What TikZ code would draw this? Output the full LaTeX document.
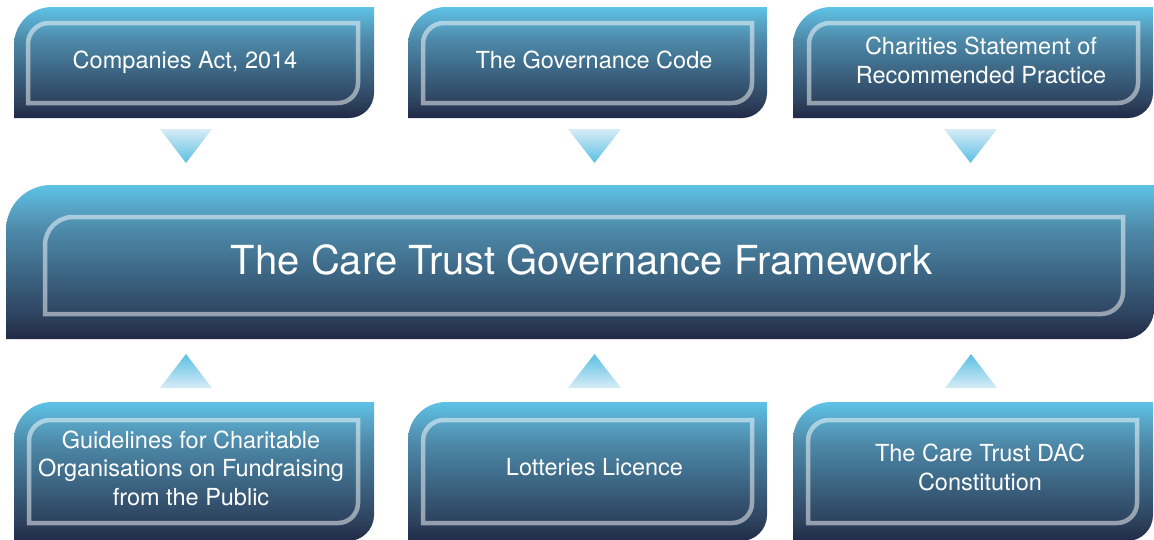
\documentclass[tikz,border=0pt]{standalone}
\usepackage{fontspec}
\setmainfont{TeX Gyre Heros}

% panel gradient colours (bottom to top)
\definecolor{pbot}{HTML}{212A47}
\definecolor{pa}{HTML}{2E4460}
\definecolor{pb}{HTML}{3E6A88}
\definecolor{pc}{HTML}{4D88A8}
\definecolor{pd}{HTML}{57A2C3}
\definecolor{pe}{HTML}{5BBADE}
\definecolor{ptop}{HTML}{5EC3E6}
% arrow triangle colours
\definecolor{tlight}{HTML}{D6ECF6}
\definecolor{tdark}{HTML}{5BBFE3}

\pgfdeclareverticalshading{panel}{100bp}{%
  color(0bp)=(pbot); color(25bp)=(pbot); color(33bp)=(pa); color(48bp)=(pb);
  color(60bp)=(pc); color(67bp)=(pd); color(73bp)=(pe); color(75bp)=(ptop);
  color(100bp)=(ptop)}

% tab outline: left, top, right, bottom, top-left radius, bottom-right radius
\newcommand{\tabpath}[6]{(#1,#4) -- (#1,#2+#5)
  .. controls (#1,#2+0.448*#5) and (#1+0.448*#5,#2) .. (#1+#5,#2)
  -- (#3,#2) -- (#3,#4-#6)
  .. controls (#3,#4-0.448*#6) and (#3-0.448*#6,#4) .. (#3-#6,#4) -- cycle}

\tikzset{
  panelfill/.style={shading=panel},
  frameline/.style={draw=white, draw opacity=0.5, line width=4.5pt},
  downtri/.style={top color=tlight, bottom color=tdark},
  uptri/.style={top color=tdark, bottom color=tlight},
  lbl/.style={text=white, align=center, inner sep=0pt,
    font=\fontsize{23.5}{28.5}\selectfont},
  titlelbl/.style={text=white, inner sep=0pt,
    font=\fontsize{40}{48}\selectfont},
}

\begin{document}
\begin{tikzpicture}[x=1pt, y=-1pt]
\useasboundingbox (0,0) rectangle (1154,539);

% top row of source panels
\shade[panelfill] \tabpath{14}{7}{374}{118}{38}{25};
\draw[frameline] \tabpath{28}{23}{358}{103}{21}{20};
\shade[panelfill] \tabpath{408}{7}{767}{118}{38}{25};
\draw[frameline] \tabpath{423}{23}{752}{103}{21}{20};
\shade[panelfill] \tabpath{793}{7}{1153}{118}{38}{25};
\draw[frameline] \tabpath{809}{23}{1138}{103}{21}{20};

% central framework panel
\shade[panelfill] \tabpath{6}{185}{1154}{339}{45}{30};
\draw[frameline] \tabpath{45}{217}{1123}{314}{28}{22};

% bottom row of source panels
\shade[panelfill] \tabpath{14}{402}{374}{541}{38}{26};
\draw[frameline] \tabpath{29}{420}{358}{523}{21}{20};
\shade[panelfill] \tabpath{408}{402}{767}{541}{38}{26};
\draw[frameline] \tabpath{423}{420}{752}{523}{21}{20};
\shade[panelfill] \tabpath{793}{402}{1153}{541}{38}{26};
\draw[frameline] \tabpath{808}{420}{1137}{523}{21}{20};

% arrows into the framework
\shade[downtri] (160,129) -- (212,129) -- (186,163) -- cycle;
\shade[downtri] (568,129) -- (621,129) -- (594.5,163) -- cycle;
\shade[downtri] (944,129) -- (997,129) -- (970.5,163) -- cycle;
\shade[uptri] (160,388) -- (212,388) -- (186,354) -- cycle;
\shade[uptri] (568,388) -- (621,388) -- (594.5,354) -- cycle;
\shade[uptri] (945,388) -- (997,388) -- (971,354) -- cycle;

% labels
\node[lbl, anchor=base] (companies) at (185,68) {Companies Act, 2014};
\node[lbl, anchor=base] (code) at (594,68) {The Governance Code};
\node[lbl] (sorp) at (981,63.3) {\strut Charities Statement of\\Recommended Practice\strut};
\node[titlelbl, anchor=base] (framework) at (581.5,274) {The Care Trust Governance Framework};
\node[lbl] (guidelines) at (191,470.8) {\strut Guidelines for Charitable\\Organisations on Fundraising\\from the Public\strut};
\node[lbl, anchor=base] (lotteries) at (594.5,475) {Lotteries Licence};
\node[lbl] (constitution) at (980,470.3) {\strut The Care Trust DAC\\Constitution\strut};
\end{tikzpicture}
\end{document}
